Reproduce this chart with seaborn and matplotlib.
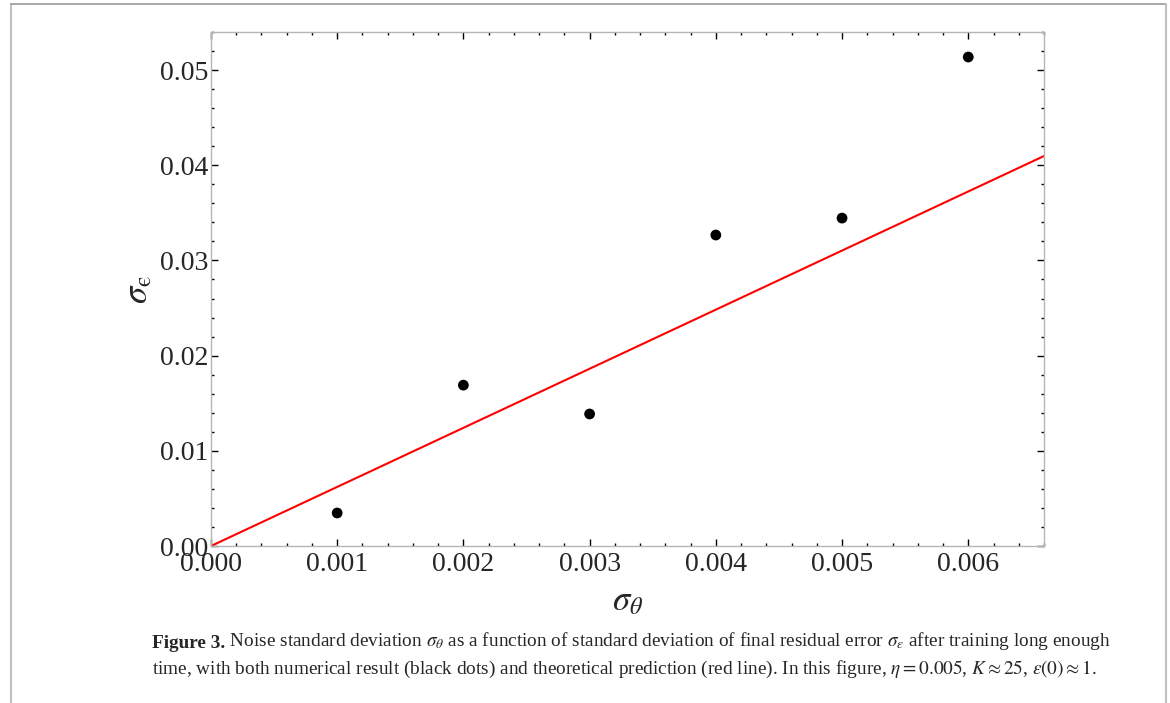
import matplotlib
matplotlib.use("Agg")
import matplotlib.pyplot as plt
import seaborn as sns
import pandas as pd
from matplotlib.lines import Line2D
from matplotlib.ticker import MultipleLocator

# numerical result (black dots)
sigma_theta = [0.001, 0.002, 0.003, 0.004, 0.005, 0.006]
sigma_eps = [0.00347, 0.0169, 0.01387, 0.03267, 0.03445, 0.05137]

# theoretical prediction (red line) endpoints
line_x = [0.0, 0.0066]
line_y = [0.0, 0.04097]

x_ticks = [0.000, 0.001, 0.002, 0.003, 0.004, 0.005, 0.006]
y_ticks = [0.00, 0.01, 0.02, 0.03, 0.04, 0.05]

sns.set_theme(style="ticks")
plt.rcParams['font.family'] = ['Liberation Serif', 'DejaVu Serif']
plt.rcParams['mathtext.fontset'] = 'stix'

fig = plt.figure(figsize=(11.7, 7.03), dpi=100)
ax = fig.add_axes([0.1803, 0.2233, 0.8923 - 0.1803, 0.9545 - 0.2233])

pts = pd.DataFrame({'x': sigma_theta, 'y': sigma_eps})
theory = pd.DataFrame({'x': line_x, 'y': line_y})

sns.lineplot(data=theory, x='x', y='y', color='#ff0000', linewidth=1.5, ax=ax)
sns.scatterplot(data=pts, x='x', y='y', color='black', s=60, edgecolor='none',
                ax=ax, zorder=3, clip_on=False)

ax.set_xlim(0, 0.0066)
ax.set_ylim(0, 0.054)
ax.set_xticks(x_ticks)
ax.set_xticklabels([f"{v:.3f}" for v in x_ticks])
ax.set_yticks(y_ticks)
ax.set_yticklabels([f"{v:.2f}" for v in y_ticks])
ax.xaxis.set_minor_locator(MultipleLocator(0.0002))
ax.yaxis.set_minor_locator(MultipleLocator(0.002))

ax.tick_params(which='both', direction='in', top=True, right=True,
               color='black', width=1, labelsize=20)
ax.tick_params(which='major', length=5)
ax.tick_params(which='minor', length=2.5)
ax.tick_params(axis='x', pad=4)
ax.tick_params(axis='y', pad=2)
for s in ax.spines.values():
    s.set_color('#b5b5b5')
    s.set_linewidth(1)

ax.set_xlabel(r'$\sigma_\theta$', fontsize=25, labelpad=6)
ax.set_ylabel('$\\sigma_{\\mathrm{\u03f5}}$', fontsize=25, labelpad=3)

# page frame around the figure
fig.add_artist(Line2D([0.0094, 0.0094], [0.9943, 0.0], color='#c0c0c0', lw=1.5))
fig.add_artist(Line2D([0.0094, 0.9966], [0.9943, 0.9943], color='#9a9a9a', lw=1.2))
fig.add_artist(Line2D([0.9966, 0.9966], [0.9943, 0.0], color='#c0c0c0', lw=1.5))

# caption
cap_size = 13.9
bold = fig.text(152 / 1170, 1 - 648 / 703, 'Figure 3.', fontsize=cap_size,
                fontweight='bold', va='baseline', ha='left')
ax.annotate(r' Noise standard deviation $\sigma_\theta$ as a function of standard deviation '
            r'of final residual error $\sigma_\epsilon$ after training long enough',
            xy=(1, 0), xycoords=bold, va='bottom', ha='left', fontsize=cap_size,
            annotation_clip=False)
fig.text(152 / 1170, 1 - 674 / 703,
         r'time, with both numerical result (black dots) and theoretical prediction '
         r'(red line). In this figure, $\eta = 0.005$, $K \approx 25$, '
         r'$\epsilon(0) \approx 1$.',
         fontsize=cap_size, va='baseline', ha='left')

fig.savefig('out.png', dpi=100)
